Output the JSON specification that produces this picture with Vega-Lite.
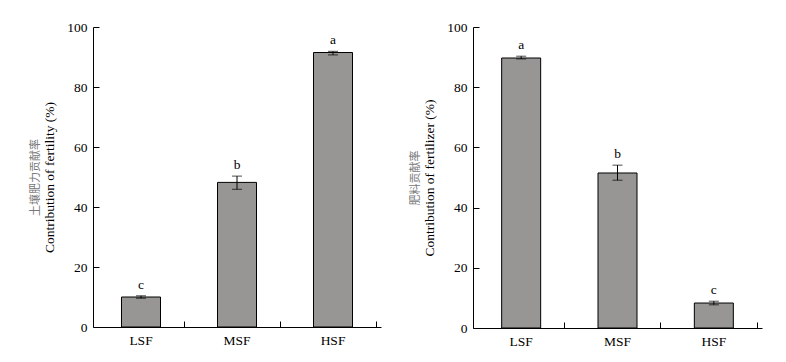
{
  "$schema": "https://vega.github.io/schema/vega-lite/v6.json",
  "padding": {"left": 29, "top": 20, "right": 5, "bottom": 5},
  "spacing": 28,
  "config": {
    "view": {"stroke": null},
    "font": "Liberation Serif",
    "axis": {
      "labelFont": "Liberation Serif",
      "titleFont": "Liberation Serif",
      "labelFontSize": 13.5,
      "titleFontSize": 13.5,
      "labelColor": "black",
      "titleColor": "black",
      "domainColor": "black",
      "tickColor": "black",
      "titleFontWeight": "normal",
      "grid": false
    }
  },
  "datasets": {
    "soil": [
      {"cat": "LSF", "mean": 10.0, "lo": 9.6, "hi": 10.4, "letter": "c"},
      {"cat": "MSF", "mean": 48.2, "lo": 45.9, "hi": 50.3, "letter": "b"},
      {"cat": "HSF", "mean": 91.5, "lo": 90.7, "hi": 91.9, "letter": "a"}
    ],
    "fert": [
      {"cat": "LSF", "mean": 89.7, "lo": 89.4, "hi": 90.3, "letter": "a"},
      {"cat": "MSF", "mean": 51.5, "lo": 49.1, "hi": 54.1, "letter": "b"},
      {"cat": "HSF", "mean": 8.3, "lo": 7.7, "hi": 8.9, "letter": "c"}
    ]
  },
  "hconcat": [
    {
      "width": 288,
      "height": 300,
      "data": {"name": "soil"},
      "resolve": {"axis": {"y": "independent"}},
      "layer": [
        {
          "mark": {"type": "bar", "fill": "#979694", "stroke": "black", "strokeWidth": 1, "size": 39},
          "encoding": {
            "x": {"field": "cat", "type": "nominal", "sort": ["LSF", "MSF", "HSF"],
              "axis": {"title": null, "labelAngle": 0, "bandPosition": 1, "tickSize": -6, "labelPadding": 12}},
            "y": {"field": "mean", "type": "quantitative", "scale": {"domain": [0, 100], "nice": false},
              "axis": {"title": "Contribution of fertility (%)", "values": [0, 20, 40, 60, 80, 100], "tickSize": -6, "labelPadding": 12, "titlePadding": 10}}
          }
        },
        {
          "mark": {"type": "rule", "color": "black", "strokeWidth": 1},
          "encoding": {
            "x": {"field": "cat", "type": "nominal", "sort": ["LSF", "MSF", "HSF"]},
            "y": {"field": "lo", "type": "quantitative", "axis": null},
            "y2": {"field": "hi"}
          }
        },
        {
          "mark": {"type": "tick", "color": "black", "size": 10, "thickness": 1, "orient": "horizontal"},
          "encoding": {
            "x": {"field": "cat", "type": "nominal", "sort": ["LSF", "MSF", "HSF"]},
            "y": {"field": "hi", "type": "quantitative", "axis": null}
          }
        },
        {
          "mark": {"type": "tick", "color": "black", "size": 10, "thickness": 1, "orient": "horizontal"},
          "encoding": {
            "x": {"field": "cat", "type": "nominal", "sort": ["LSF", "MSF", "HSF"]},
            "y": {"field": "lo", "type": "quantitative", "axis": null}
          }
        },
        {
          "mark": {"type": "text", "font": "Liberation Serif", "fontSize": 13.5, "dy": -7, "baseline": "alphabetic", "fill": "#000000"},
          "encoding": {
            "x": {"field": "cat", "type": "nominal", "sort": ["LSF", "MSF", "HSF"]},
            "y": {"field": "hi", "type": "quantitative",
              "axis": {"orient": "left", "title": "土壤肥力贡献率", "titleFont": "Noto Sans CJK SC", "titleFontSize": 11, "titleColor": "#777777", "labels": false, "ticks": false, "domain": false, "titlePadding": 53}},
            "text": {"field": "letter"}
          }
        }
      ]
    },
    {
      "width": 289,
      "height": 301,
      "data": {"name": "fert"},
      "resolve": {"axis": {"y": "independent"}},
      "layer": [
        {
          "mark": {"type": "bar", "fill": "#979694", "stroke": "black", "strokeWidth": 1, "size": 39},
          "encoding": {
            "x": {"field": "cat", "type": "nominal", "sort": ["LSF", "MSF", "HSF"],
              "axis": {"title": null, "labelAngle": 0, "bandPosition": 1, "tickSize": -6, "labelPadding": 12}},
            "y": {"field": "mean", "type": "quantitative", "scale": {"domain": [0, 100], "nice": false},
              "axis": {"title": "Contribution of fertilizer (%)", "values": [0, 20, 40, 60, 80, 100], "tickSize": -6, "labelPadding": 12, "titlePadding": 10}}
          }
        },
        {
          "mark": {"type": "rule", "color": "black", "strokeWidth": 1},
          "encoding": {
            "x": {"field": "cat", "type": "nominal", "sort": ["LSF", "MSF", "HSF"]},
            "y": {"field": "lo", "type": "quantitative", "axis": null},
            "y2": {"field": "hi"}
          }
        },
        {
          "mark": {"type": "tick", "color": "black", "size": 10, "thickness": 1, "orient": "horizontal"},
          "encoding": {
            "x": {"field": "cat", "type": "nominal", "sort": ["LSF", "MSF", "HSF"]},
            "y": {"field": "hi", "type": "quantitative", "axis": null}
          }
        },
        {
          "mark": {"type": "tick", "color": "black", "size": 10, "thickness": 1, "orient": "horizontal"},
          "encoding": {
            "x": {"field": "cat", "type": "nominal", "sort": ["LSF", "MSF", "HSF"]},
            "y": {"field": "lo", "type": "quantitative", "axis": null}
          }
        },
        {
          "mark": {"type": "text", "font": "Liberation Serif", "fontSize": 13.5, "dy": -7, "baseline": "alphabetic", "fill": "#000000"},
          "encoding": {
            "x": {"field": "cat", "type": "nominal", "sort": ["LSF", "MSF", "HSF"]},
            "y": {"field": "hi", "type": "quantitative",
              "axis": {"orient": "left", "title": "肥料贡献率", "titleFont": "Noto Sans CJK SC", "titleFontSize": 11, "titleColor": "#777777", "labels": false, "ticks": false, "domain": false, "titlePadding": 53}},
            "text": {"field": "letter"}
          }
        }
      ]
    }
  ]
}
